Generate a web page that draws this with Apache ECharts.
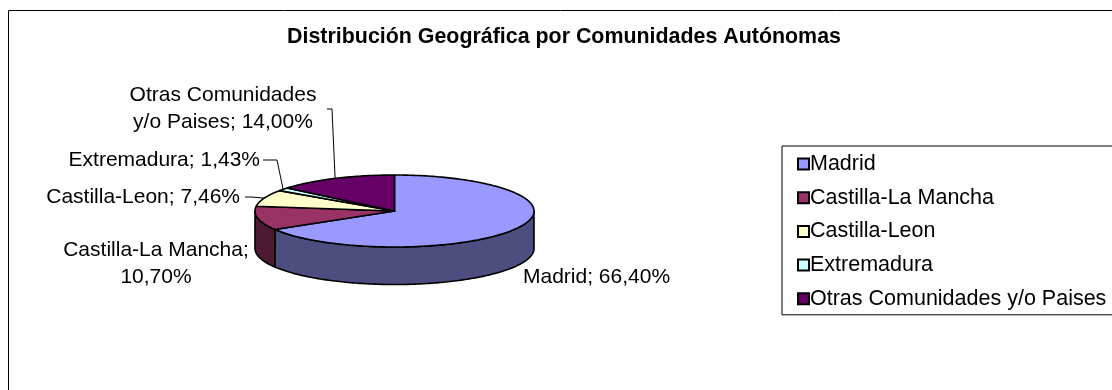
<!DOCTYPE html>
<html>
<head>
<meta charset="utf-8">
<script src="https://cdn.jsdelivr.net/npm/echarts@6/dist/echarts.min.js"></script>
<style>
  html, body { margin: 0; padding: 0; background: #ffffff; }
  #chart { width: 1112px; height: 390px; }
</style>
</head>
<body>
<div id="chart"></div>
<script>
// Share of records per autonomous community (percent)
const categories = ['Madrid', 'Castilla-La Mancha', 'Castilla-Leon', 'Extremadura', 'Otras Comunidades y/o Paises'];
const shares = [66.40, 10.70, 7.46, 1.43, 14.00];

// Slice fill colours (top faces); side faces are a darkened version
const sliceColors = ['#9999FF', '#993366', '#FFFFCC', '#CCFFFF', '#660066'];

const FONT = "'Liberation Sans', Arial, Helvetica, sans-serif";

// Geometry of the tilted pie (ellipse radii and wall height)
const pie = { cx: 394.5, cy: 211, rx: 139.5, ry: 36, depth: 37.5 };

// Label placement for each slice; wrapped labels break at their second space
const labelLayout = [
  { x: 523, y: 277, align: 'left' },
  { x: 156, y: 264, align: 'center', wrap: true },
  { x: 240, y: 197, align: 'right', leader: { x0: 245, y0: 197, run: 6 } },
  { x: 260, y: 160, align: 'right', leader: { x0: 263, y0: 160, run: 14 } },
  { x: 223, y: 108.5, align: 'center', wrap: true, leader: { x0: 327, y0: 109, run: 5 } }
];

const total = shares.reduce((a, b) => a + b, 0);
const startShare = shares.map((_, i) => shares.slice(0, i).reduce((a, b) => a + b, 0));

function fmtPct(v) {
  return v.toFixed(2).replace('.', ',') + '%';
}

function labelText(name, v, wrap) {
  let t = name + '; ' + fmtPct(v);
  if (wrap) {
    const first = t.indexOf(' ');
    const second = t.indexOf(' ', first + 1);
    t = t.slice(0, second) + '\n' + t.slice(second + 1);
  }
  return t;
}

// Half-brightness shade used for the pie wall
function shade(color) {
  const c = echarts.color.parse(color);
  return 'rgb(' + Math.round(c[0] * 0.5) + ',' + Math.round(c[1] * 0.5) + ',' + Math.round(c[2] * 0.5) + ')';
}

// Angle in degrees, clockwise from 12 o'clock, projected onto the ellipse
function rimPoint(deg, drop) {
  const r = deg * Math.PI / 180;
  return [pie.cx + pie.rx * Math.sin(r), pie.cy - pie.ry * Math.cos(r) + (drop || 0)];
}

function arc(a0, a1, drop) {
  const pts = [];
  const n = Math.max(2, Math.ceil(Math.abs(a1 - a0)));
  for (let k = 0; k <= n; k++) pts.push(rimPoint(a0 + (a1 - a0) * k / n, drop));
  return pts;
}

function makeRenderItem(i) {
  return function (params, api) {
    const v = api.value(0);
    const a0 = startShare[i] / total * 360;
    const a1 = (startShare[i] + v) / total * 360;
    const children = [];

    // visible front wall (between 90° and 270°)
    const s0 = Math.max(a0, 90), s1 = Math.min(a1, 270);
    if (s1 > s0) {
      children.push({
        type: 'polygon',
        shape: { points: arc(s0, s1, 0).concat(arc(s1, s0, pie.depth)) },
        style: { fill: shade(sliceColors[i]), stroke: '#000', lineWidth: 1.6, lineJoin: 'round' }
      });
    }

    // top face
    children.push({
      type: 'polygon',
      shape: { points: [[pie.cx, pie.cy]].concat(arc(a0, a1, 0)) },
      style: { fill: sliceColors[i], stroke: '#000', lineWidth: 1.6, lineJoin: 'round' }
    });

    // data label
    const lay = labelLayout[i];
    children.push({
      type: 'text',
      style: {
        text: labelText(categories[i], v, lay.wrap),
        x: lay.x, y: lay.y,
        align: lay.align, verticalAlign: 'middle',
        fill: '#000', fontSize: 21, fontFamily: FONT, lineHeight: 27
      }
    });

    // leader line to the middle of the slice edge
    if (lay.leader) {
      const mid = rimPoint((a0 + a1) / 2, 0);
      children.push({
        type: 'polyline',
        shape: { points: [[lay.leader.x0, lay.leader.y0], [lay.leader.x0 + lay.leader.run, lay.leader.y0], mid] },
        style: { stroke: '#000', lineWidth: 1, fill: null }
      });
    }

    return { type: 'group', children: children };
  };
}

const chart = echarts.init(document.getElementById('chart'));

chart.setOption({
  animation: false,
  backgroundColor: '#ffffff',
  title: {
    text: 'Distribución Geográfica por Comunidades Autónomas',
    left: 564,
    top: 27,
    textAlign: 'center',
    padding: 0,
    textStyle: { fontFamily: FONT, fontSize: 21.4, fontWeight: 'bold', color: '#000' }
  },
  legend: {
    orient: 'vertical',
    left: 782,
    top: 146,
    padding: [7, 40, 5, 15],
    borderColor: '#000',
    borderWidth: 1,
    backgroundColor: '#fff',
    itemWidth: 11,
    itemHeight: 11,
    itemGap: 11.7,
    icon: 'rect',
    itemStyle: { borderColor: '#000', borderWidth: 2 },
    selectedMode: false,
    textStyle: { fontFamily: FONT, fontSize: 21.5, color: '#000', lineHeight: 22, padding: [0, 0, 0, -4] },
    data: categories
  },
  graphic: [{
    type: 'rect',
    silent: true,
    shape: { x: 8.5, y: 10.5, width: 1200, height: 500 },
    style: { fill: 'none', stroke: '#000', lineWidth: 1 },
    z: -1
  }],
  series: categories.map((name, i) => ({
    type: 'custom',
    name: name,
    coordinateSystem: 'none',
    silent: true,
    itemStyle: { color: sliceColors[i] },
    data: [[shares[i]]],
    renderItem: makeRenderItem(i)
  }))
});
</script>
</body>
</html>
